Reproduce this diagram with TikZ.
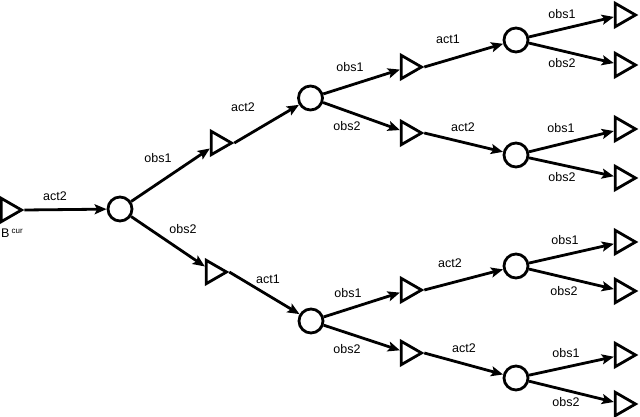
\documentclass[tikz,border=0pt]{standalone}
\usepackage{fontspec}
\setmainfont{Liberation Sans}
\usetikzlibrary{shapes.geometric,arrows.meta}
\begin{document}
\begin{tikzpicture}[x=1pt,y=-1pt,
  belief/.style={regular polygon, regular polygon sides=3, regular polygon rotate=-90,
    draw, line width=2.8pt, inner sep=0pt, minimum size=27pt},
  chance/.style={circle, draw, line width=2.8pt, inner sep=0pt, minimum size=24pt},
  edge/.style={line width=2.8pt, -{Stealth[length=12pt,width=10pt,inset=2.5pt]}},
  lbl/.style={font=\fontsize{12.5}{15}\selectfont, inner sep=0pt}]
\useasboundingbox (0,0) rectangle (640,417);
% nodes
\node[belief] (r) at (8,210) {};
\node[chance] (c0) at (120,209) {};
\node[belief] (t1) at (218,143) {};
\node[belief] (t2) at (213,272) {};
\node[chance] (c1) at (310.5,98) {};
\node[chance] (c2) at (311,321) {};
\node[belief] (t11) at (408,67) {};
\node[belief] (t12) at (408,133) {};
\node[belief] (t21) at (408,290) {};
\node[belief] (t22) at (408,353) {};
\node[chance] (c11) at (516,40) {};
\node[chance] (c12) at (516,155) {};
\node[chance] (c21) at (516,266) {};
\node[chance] (c22) at (516,378) {};
\node[belief] (l1) at (622,15) {};
\node[belief] (l2) at (622,65) {};
\node[belief] (l3) at (622,129) {};
\node[belief] (l4) at (622,178) {};
\node[belief] (l5) at (622,242) {};
\node[belief] (l6) at (622,291) {};
\node[belief] (l7) at (622,355) {};
\node[belief] (l8) at (622,404) {};
% root label
\node[lbl, anchor=base west] (bcur) at (1,237) {B\,\raisebox{0.6ex}{\fontsize{8}{9}\selectfont cur}};
% connectors
\draw[edge] (r.corner 1) -- (c0);
\draw[edge] (c0) -- (t1);
\draw[edge] (c0) -- (t2);
\draw[edge] (t1.corner 1) -- (c1);
\draw[edge] (t2.corner 1) -- (c2);
\draw[edge] (c1) -- (t11);
\draw[edge] (c1) -- (t12);
\draw[edge] (c2) -- (t21);
\draw[edge] (c2) -- (t22);
\draw[edge] (t11.corner 1) -- (c11);
\draw[edge] (t12.corner 1) -- (c12);
\draw[edge] (t21.corner 1) -- (c21);
\draw[edge] (t22.corner 1) -- (c22);
\draw[edge] (c11) -- (l1);
\draw[edge] (c11) -- (l2);
\draw[edge] (c12) -- (l3);
\draw[edge] (c12) -- (l4);
\draw[edge] (c21) -- (l5);
\draw[edge] (c21) -- (l6);
\draw[edge] (c22) -- (l7);
\draw[edge] (c22) -- (l8);
% labels
\node[lbl] (a0) at (55,196) {act2};
\node[lbl] (o1) at (158,158) {obs1};
\node[lbl] (o2) at (183,229) {obs2};
\node[lbl] (a1) at (243,107) {act2};
\node[lbl] (a2) at (268,279) {act1};
\node[lbl] (o11) at (350,67) {obs1};
\node[lbl] (o12) at (347,126) {obs2};
\node[lbl] (o21) at (348,293) {obs1};
\node[lbl] (o22) at (347,349) {obs2};
\node[lbl] (a11) at (448,39) {act1};
\node[lbl] (a12) at (463,127) {act2};
\node[lbl] (a21) at (450,263) {act2};
\node[lbl] (a22) at (464,348) {act2};
\node[lbl] (p1) at (562,14) {obs1};
\node[lbl] (p2) at (562,63) {obs2};
\node[lbl] (p3) at (561,128) {obs1};
\node[lbl] (p4) at (562,177) {obs2};
\node[lbl] (p5) at (565,240) {obs1};
\node[lbl] (p6) at (564,291) {obs2};
\node[lbl] (p7) at (566,353) {obs1};
\node[lbl] (p8) at (566,402) {obs2};
\end{tikzpicture}
\end{document}
